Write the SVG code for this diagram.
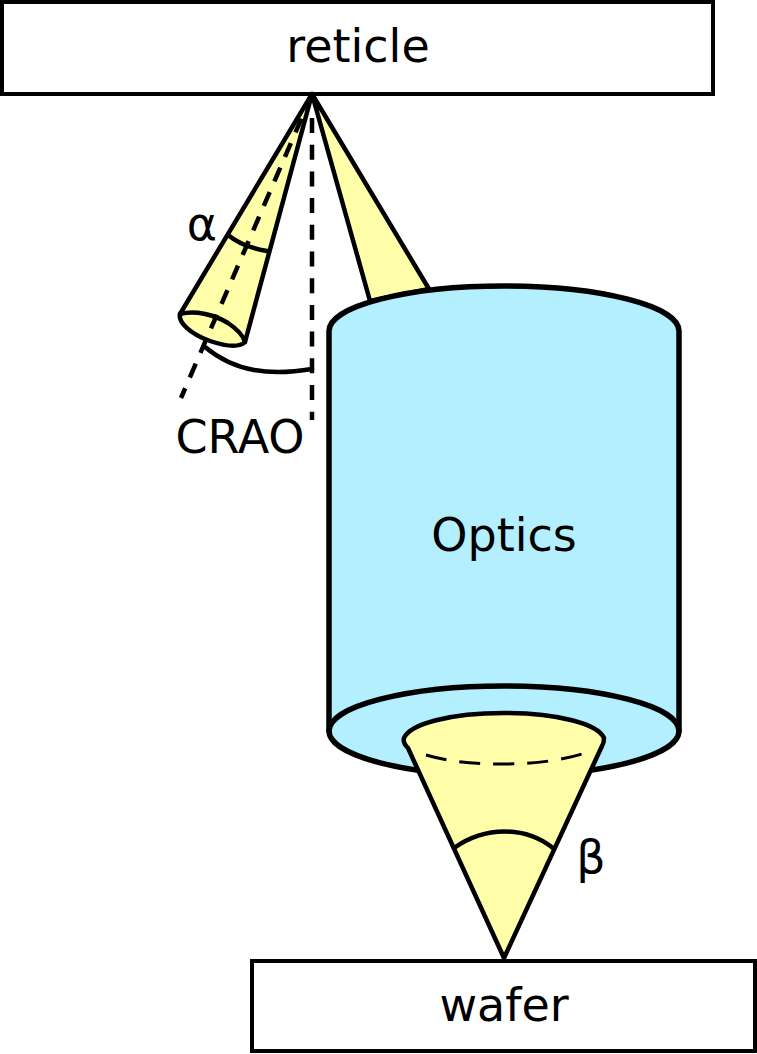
<svg xmlns="http://www.w3.org/2000/svg" width="757" height="1054" viewBox="0 0 757 1054">
<style>
.l{fill:none;stroke:#000;stroke-width:4.5;stroke-linecap:round;stroke-linejoin:round}
.t{stroke-width:5.5}
.d{stroke-dasharray:15 11.7;stroke-linecap:butt}
.box{fill:#fff;stroke:#000;stroke-width:4}
.y{fill:#ffffaa}
.b{fill:#b3efff}
text{font-family:"DejaVu Sans",sans-serif;font-size:46px;fill:#000;text-anchor:middle}
</style>
<rect width="757" height="1054" fill="#fff"/>
<g id="reticle"><rect class="box" x="2" y="2" width="711" height="92"/><text x="358" y="62">reticle</text></g>
<g id="wafer"><rect class="box" x="252" y="961" width="503" height="90"/><text x="504" y="1021">wafer</text></g>
<g id="beam-in"><path class="l y" d="M312 94L429 289L370 301Z"/></g>
<g id="optics">
<path class="l t b" d="M329 331A175 45 0 0 1 679 331V731A175 45 0 0 1 329 731Z"/>
<path class="l t" d="M329 731A175 45 0 0 1 679 731"/>
<text x="504" y="551">Optics</text>
</g>
<g id="beam-out">
<path class="l y" d="M504 958L408 748C404 744 403 741 404 738C410 724 450 713 504 713C558 713 598 724 604 738C604 741 604 743 602 746Z"/>
<path class="l d" style="stroke-width:3;stroke-dasharray:21 13" d="M426 755C450 762 475 764 504 764C535 764 565 760 588 752"/>
<path class="l" d="M454 848C485 826 525 826 553 848"/>
<text x="591" y="873">β</text>
</g>
<g id="cone">
<path class="l y" d="M312 94L180 314C178 322 190 334 210 341C228 347 240 347 245 342Z"/>
<path class="l" d="M180 314C196 310 215 315 228 323C237 329 243 335 245 342"/>
<path class="l" d="M228 235C240 245 255 249 267 251"/>
<text x="202" y="240">α</text>
</g>
<g id="connectors">
<path class="l d" d="M312 94L181 398"/>
<path class="l d" d="M312 118V420"/>
<path class="l" d="M205 347C235 372 270 376 312 369"/>
</g>
<g id="label"><text x="240" y="453">CRAO</text></g>
</svg>
